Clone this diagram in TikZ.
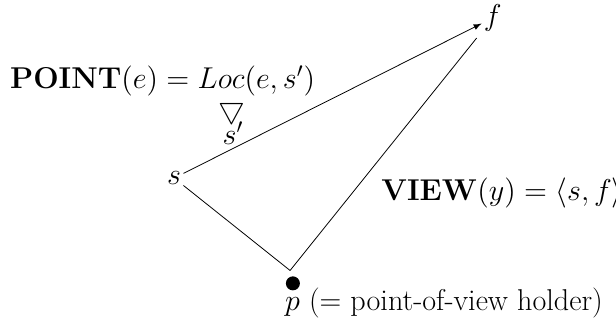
\RequirePackage{fix-cm}
\documentclass[tikz,border=0pt]{standalone}
\usepackage{amsmath}
\begin{document}
\begin{tikzpicture}[
	font=\fontsize{15.3}{18}\selectfont,
	lbl/.style = {inner sep=1pt},
	dot/.style = {circle, fill=black, inner sep=0pt, minimum size=0.25cm},
	r/.style = {-latex, thin},
	l/.style = {thin}
	]
	
	\useasboundingbox (0, 0) rectangle (11, 5.77);
	
	% ===== ===== ===== ===== =====
	
	% Nodes
	\node[lbl]	(f)	at	(8.80, 5.45)	{$f$};
	\node[lbl]	(s)	at	(3.11, 2.59)	{$s$};
	\node[dot]	(p)	at	(5.23, 0.71)	{};
	\coordinate	(v)	at	(5.18, 0.94);
	
	\node[lbl, anchor=west]	(point)	at	(0.14, 4.32)	{$\mathbf{POINT}(e) = Loc(e, s')$};
	\node[lbl]	(tri)	at	(4.14, 3.79)	{$\bigtriangledown$};
	\node[lbl]	(sp)	at	(4.16, 3.39)	{$s'$};
	
	\node[lbl, anchor=west]	(view)	at	(6.77, 2.32)	{$\mathbf{VIEW}(y) = \langle s, f\rangle$};
	\node[lbl, anchor=west]	(ptext)	at	(5.05, 0.36)	{$p$ (= point-of-view holder)};
	
	
	
	% Lines
	\draw[r]	(s)	to	(f);
	\draw[l]	(v)	to	(s);
	\draw[l, shorten >=4pt]	(v)	to	(f);
	
\end{tikzpicture}
\end{document}
